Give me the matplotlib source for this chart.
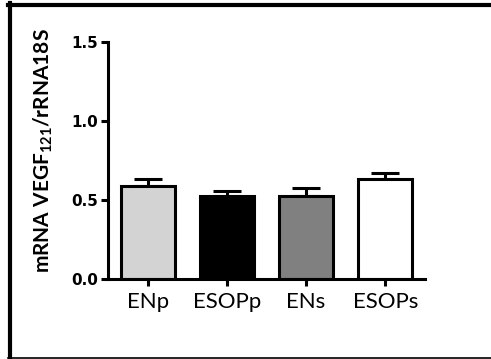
import numpy as np
import matplotlib
matplotlib.use('Agg')
import matplotlib.pyplot as plt
from matplotlib.lines import Line2D

groups = ['ENp', 'ESOPp', 'ENs', 'ESOPs']
means = [0.59, 0.527, 0.525, 0.631]
sems = [0.044, 0.032, 0.051, 0.042]
colors = ['#d3d3d3', '#000000', '#808080', '#ffffff']
yticks = [0.0, 0.5, 1.0, 1.5]

plt.rcParams['mathtext.fontset'] = 'custom'
plt.rcParams['mathtext.rm'] = 'Lato:bold'
plt.rcParams['mathtext.bf'] = 'Lato:bold'

W, H = 491, 359
fig = plt.figure(figsize=(W / 100, H / 100), dpi=100)
ax = fig.add_axes([108 / W, (H - 279) / H, (425 - 108) / W, (279 - 42) / H])

x = np.arange(len(groups))
ax.bar(x, means, width=0.68, color=colors, edgecolor='black', linewidth=2.2, zorder=2)
ax.errorbar(x, means, yerr=[np.zeros(len(sems)), sems], fmt='none', ecolor='black',
            elinewidth=2.2, capsize=10, capthick=2.2, zorder=1)

ax.set_xlim(-0.5, 3.5)
ax.set_ylim(0, 1.5)
ax.set_yticks(yticks)
ax.set_yticklabels([f'{v:.1f}' for v in yticks], fontweight='bold', fontsize=11,
                   family='DejaVu Sans')
ax.set_xticks(x)
ax.set_xticklabels(groups, fontsize=16, family='Lato')
for s in ['top', 'right']:
    ax.spines[s].set_visible(False)
for s in ['left', 'bottom']:
    ax.spines[s].set_linewidth(2.2)
ax.tick_params(width=2.2, length=5, pad=2)
ax.tick_params(axis='x', pad=4)
ax.set_ylabel('mRNA VEGF$_{121}$/rRNA18S', fontsize=15, fontweight='bold', family='Lato')
ax.yaxis.set_label_coords(-53 / 317, 0.54)

# outer frame
fig.add_artist(Line2D([10 / W, 10 / W], [0, 1 - 3 / H], transform=fig.transFigure, color='black', lw=3))
fig.add_artist(Line2D([8 / W, 1], [1 - 5 / H, 1 - 5 / H], transform=fig.transFigure, color='black', lw=3))
fig.add_artist(Line2D([8 / W, 1], [1.2 / H, 1.2 / H], transform=fig.transFigure, color='black', lw=1.2))

fig.savefig('out.png', dpi=100)
